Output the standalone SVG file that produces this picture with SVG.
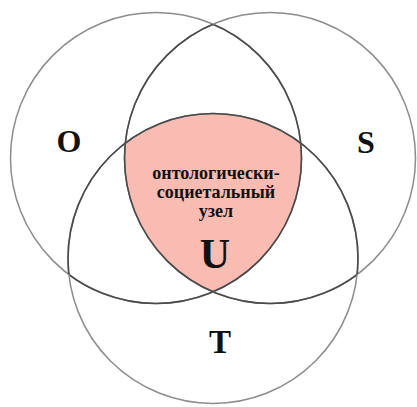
<svg xmlns="http://www.w3.org/2000/svg" width="417" height="407" viewBox="0 0 417 407">
<style>
.lbl{font-family:"Liberation Serif","Times New Roman",serif;font-weight:bold;fill:#111;text-anchor:middle}
.outer{fill:none;stroke:#8c8c8c;stroke-width:1.5}
.inner{fill:none;stroke:#4a4a4a;stroke-width:1.6}
</style>
<defs>
<clipPath id="cO"><circle cx="156" cy="158" r="145.5"/></clipPath>
<clipPath id="cS"><circle cx="270" cy="158" r="145.5"/></clipPath>
<clipPath id="cT"><circle cx="213" cy="258.5" r="145"/></clipPath>
<clipPath id="nO"><circle cx="270" cy="158" r="145.5"/><circle cx="213" cy="258.5" r="145"/></clipPath>
<clipPath id="nS"><circle cx="156" cy="158" r="145.5"/><circle cx="213" cy="258.5" r="145"/></clipPath>
<clipPath id="nT"><circle cx="156" cy="158" r="145.5"/><circle cx="270" cy="158" r="145.5"/></clipPath>
</defs>
<rect width="417" height="407" fill="#fff"/>
<g id="U-region">
<g clip-path="url(#cT)"><g clip-path="url(#cS)"><circle cx="156" cy="158" r="145.5" fill="#f9bcb2"/></g></g>
</g>
<g id="O">
<circle class="outer" cx="156" cy="158" r="145.5"/>
<circle class="inner" cx="156" cy="158" r="145.5" clip-path="url(#nO)"/>
<text class="lbl" x="69" y="152" font-size="32">O</text>
</g>
<g id="S">
<circle class="outer" cx="270" cy="158" r="145.5"/>
<circle class="inner" cx="270" cy="158" r="145.5" clip-path="url(#nS)"/>
<text class="lbl" x="366" y="153" font-size="32">S</text>
</g>
<g id="T">
<circle class="outer" cx="213" cy="258.5" r="145"/>
<circle class="inner" cx="213" cy="258.5" r="145" clip-path="url(#nT)"/>
<text class="lbl" x="220" y="353" font-size="33">T</text>
</g>
<g id="U">
<text class="lbl" x="216" y="179" font-size="18">онтологически-</text>
<text class="lbl" x="216" y="198" font-size="18">социетальный</text>
<text class="lbl" x="216" y="217" font-size="18">узел</text>
<text class="lbl" x="215" y="268" font-size="42">U</text>
</g>
<g id="connectors"/>
</svg>
